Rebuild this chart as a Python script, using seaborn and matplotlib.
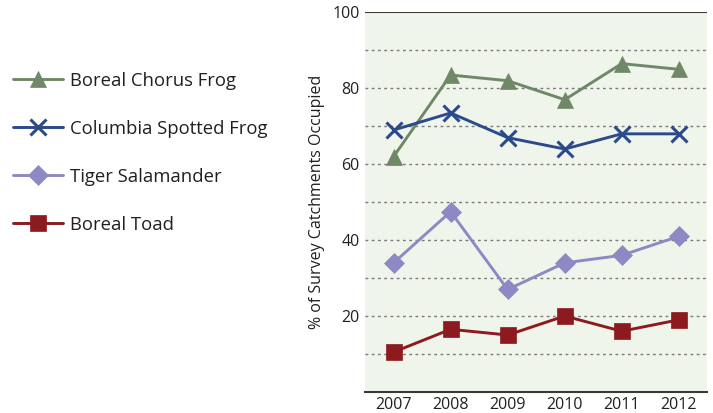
import numpy as np
import pandas as pd
import matplotlib
matplotlib.use("Agg")
import matplotlib.pyplot as plt
import seaborn as sns

years = [2007, 2008, 2009, 2010, 2011, 2012]
species = ["Boreal Chorus Frog", "Columbia Spotted Frog", "Tiger Salamander", "Boreal Toad"]
chorus = [62, 83.5, 82, 77, 86.5, 85]
spotted = [69, 73.5, 67, 64, 68, 68]
tiger = [34, 47.5, 27, 34, 36, 41]
toad = [10.5, 16.5, 15, 20, 16, 19]
ytick_vals = [20, 40, 60, 80, 100]

colors = {"Boreal Chorus Frog": "#6f8867", "Columbia Spotted Frog": "#2b4a8b",
          "Tiger Salamander": "#8d89c5", "Boreal Toad": "#8c1a1f"}
markers = {"Boreal Chorus Frog": "^", "Columbia Spotted Frog": "x",
           "Tiger Salamander": "D", "Boreal Toad": "s"}
msizes = {"Boreal Chorus Frog": 11, "Columbia Spotted Frog": 11,
          "Tiger Salamander": 10, "Boreal Toad": 11}

rows = []
for name, vals in zip(species, [chorus, spotted, tiger, toad]):
    for y, v in zip(years, vals):
        rows.append({"Year": y, "Species": name, "Value": v})
df = pd.DataFrame(rows)

sns.set_theme(style="white")
plt.rcParams['font.family'] = ['Open Sans', 'DejaVu Sans']
text_color = "#231f20"

fig = plt.figure(figsize=(7.13, 4.13), dpi=100)
ax = fig.add_axes([0.512, 0.051, 0.48, 0.919])
ax.set_facecolor("#f0f5eb")

for name in species:
    sub = df[df["Species"] == name]
    sns.lineplot(data=sub, x="Year", y="Value", ax=ax, color=colors[name],
                 marker=markers[name], markersize=msizes[name],
                 markeredgecolor=colors[name], markeredgewidth=2.2 if name == "Columbia Spotted Frog" else 0.5,
                 linewidth=2.1, label=name, legend=False, zorder=3)

ax.set_xlim(2006.5, 2012.5)
ax.set_ylim(0, 100)
for g in range(10, 100, 10):
    ax.axhline(g, color="#7a7a7a", linestyle=(0, (2, 2.5)), linewidth=1.0, zorder=1)
ax.axhline(100, color="#3a3a3a", linewidth=1.5, zorder=2)

ax.set_yticks(ytick_vals)
ax.set_yticklabels([str(v) for v in ytick_vals], fontsize=11.5, color=text_color)
ax.set_xticks(years)
ax.set_xticklabels([str(y) for y in years], fontsize=11.5, color=text_color)
ax.tick_params(axis="both", length=0, pad=4)
ax.set_xlabel("")
ax.set_ylabel("% of Survey Catchments Occupied", fontsize=11.5, color=text_color, labelpad=5)

for s in ["left", "right", "top"]:
    ax.spines[s].set_visible(False)
ax.spines["bottom"].set_color("#3a3a3a")
ax.spines["bottom"].set_linewidth(1.5)

handles, labels = ax.get_legend_handles_labels()
fig.legend(handles, labels, loc="upper left", bbox_to_anchor=(0.018, 0.826),
           frameon=False, fontsize=13.3, handlelength=2.7, labelspacing=1.62,
           handletextpad=0.37, borderpad=0, borderaxespad=0, labelcolor=text_color)

fig.savefig("out.png", dpi=100)
